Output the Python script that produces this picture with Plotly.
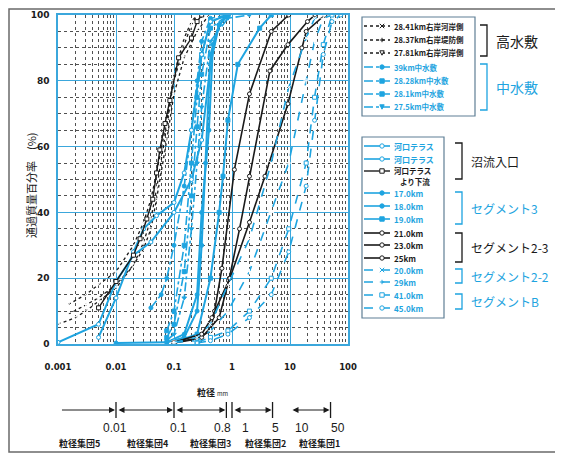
import numpy as np
import plotly.graph_objects as go

BLUE = "#1ea4e0"
BLACK = "#1a1a1a"
GRID = "#3ba7dc"
DOT = "#505050"
FONT = "Noto Sans CJK JP"

# grain size (mm) / percent passing
# 高水敷
hw1_d = [0.0015, 0.003, 0.005, 0.01, 0.02, 0.03, 0.04, 0.05, 0.075, 0.1, 0.15, 0.2, 0.25]
hw1_p = [12, 15, 18, 22, 30, 37, 44, 52, 68, 82, 93, 98, 100]
hw2_d = [0.0015, 0.003, 0.005, 0.01, 0.02, 0.03, 0.04, 0.05, 0.075, 0.1, 0.15, 0.2, 0.25]
hw2_p = [9, 12, 14, 18, 24, 31, 38, 47, 66, 80, 91, 97, 100]
hw3_d = [0.001, 0.002, 0.003, 0.005, 0.01, 0.02, 0.03, 0.04, 0.05, 0.075, 0.1, 0.15, 0.25, 0.4]
hw3_p = [6, 8, 10, 13, 17, 24, 29, 35, 44, 62, 76, 87, 95, 100]
# 中水敷
mid1_d = [0.04, 0.06, 0.075, 0.1, 0.15, 0.2, 0.25, 0.3, 0.425, 0.85]
mid1_p = [11, 15, 20, 30, 48, 65, 80, 92, 99, 100]
mid2_d = [0.075, 0.1, 0.15, 0.2, 0.25, 0.3, 0.425, 0.85]
mid2_p = [4, 10, 30, 55, 75, 88, 98, 100]
mid3_d = [0.075, 0.1, 0.15, 0.2, 0.25, 0.3, 0.425, 0.85]
mid3_p = [2, 6, 22, 45, 66, 82, 96, 100]
mid4_d = [0.075, 0.1, 0.15, 0.2, 0.25, 0.3, 0.425, 0.85, 2]
mid4_p = [1, 3, 14, 35, 55, 72, 92, 99, 100]
# 沼流入口
ter1_d = [0.001, 0.005, 0.01, 0.02, 0.04, 0.1, 0.2, 0.3, 0.425, 0.6, 0.85]
ter1_p = [0.5, 6, 19, 27, 31, 40, 50, 62, 85, 97, 100]
ter2_d = [0.005, 0.01, 0.02, 0.03, 0.05, 0.1, 0.15, 0.2, 0.3, 0.425, 0.85]
ter2_p = [2, 14, 28, 35, 39, 43, 52, 65, 88, 98, 100]
ter3_d = [0.005, 0.01, 0.02, 0.026, 0.034, 0.043, 0.05, 0.057, 0.07, 0.085, 0.12, 0.2, 0.25, 0.3]
ter3_p = [11, 19, 27, 32, 38, 44, 52, 59, 67, 74, 87, 93, 98, 100]
# セグメント3
s3a_d = [0.01, 0.075, 0.15, 0.25, 0.3, 0.35, 0.425, 0.6, 0.85]
s3a_p = [0.3, 0.5, 2, 10, 30, 55, 88, 97, 100]
s3b_d = [0.075, 0.15, 0.25, 0.3, 0.4, 0.47, 0.6, 0.85]
s3b_p = [0.5, 3, 15, 40, 65, 91, 97, 100]
s3c_d = [0.1, 0.25, 0.425, 0.6, 0.7, 0.85, 1.26, 3, 4.75]
s3c_p = [0.5, 3, 20, 40, 51, 68, 85, 96, 100]
# セグメント2-3
s23a_d = [0.1, 0.25, 0.425, 0.5, 0.67, 1.1, 2, 4.75, 9.5]
s23a_p = [0.3, 1.5, 4, 10, 23, 53, 76, 95, 100]
s23b_d = [0.1, 0.3, 0.6, 0.9, 1.35, 2, 4.5, 9.2, 20, 27]
s23b_p = [0.5, 2, 8, 20, 35, 51, 83, 91, 98, 100]
s23c_d = [0.1, 0.3, 0.45, 0.92, 2, 3.7, 9.2, 16, 19, 40]
s23c_p = [0.5, 3, 8, 20, 37, 51, 73, 90, 95, 100]
# セグメント2-2
s22a_d = [0.1, 0.25, 0.425, 0.85, 2, 4.75, 9.5, 19, 26.5, 37.5]
s22a_p = [0.5, 2, 6, 18, 32, 55, 78, 93, 99, 100]
s22b_d = [0.1, 0.25, 0.425, 0.85, 2, 4.75, 9.5, 19, 26.5, 37.5, 53]
s22b_p = [0.5, 1, 4, 10, 22, 40, 55, 80, 92, 99, 100]
# セグメントB
sba_d = [0.25, 0.425, 0.85, 2, 4.75, 9.5, 19, 26.5, 37.5, 53]
sba_p = [0.5, 2, 4, 10, 20, 35, 55, 75, 91, 100]
sbb_d = [0.25, 0.425, 0.85, 2, 4.75, 9.5, 19, 26.5, 37.5, 53, 75]
sbb_p = [0.3, 1, 3, 8, 15, 28, 48, 68, 88, 98, 100]

x_ticks = [0.001, 0.01, 0.1, 1, 10, 100]
x_ticktext = ["0.001", "0.01", "0.1", "1", "10", "100"]

# name, sizes, percents, color, dash, width, marker symbol
series = [
    ("28.41km右岸河岸側", hw1_d, hw1_p, BLACK, "dot", 1.3, "x-thin-open"),
    ("28.37km右岸堤防側", hw2_d, hw2_p, BLACK, "dot", 1.3, "cross-thin-open"),
    ("27.81km右岸河岸側", hw3_d, hw3_p, BLACK, "dot", 1.3, "triangle-down-open"),
    ("39km中水敷", mid1_d, mid1_p, BLUE, "dashdot", 1.6, "circle"),
    ("28.28km中水敷", mid2_d, mid2_p, BLUE, "dashdot", 1.6, "square"),
    ("28.1km中水敷", mid3_d, mid3_p, BLUE, "dashdot", 1.6, "square"),
    ("27.5km中水敷", mid4_d, mid4_p, BLUE, "dashdot", 1.6, "triangle-down"),
    ("河口テラス", ter1_d, ter1_p, BLUE, "solid", 2.0, "circle-open"),
    ("河口テラス", ter2_d, ter2_p, BLUE, "solid", 2.0, "circle-open"),
    ("河口テラス|より下流", ter3_d, ter3_p, BLACK, "solid", 1.4, "square-open"),
    ("17.0km", s3a_d, s3a_p, BLUE, "solid", 2.0, "circle"),
    ("18.0km", s3b_d, s3b_p, BLUE, "solid", 2.0, "circle"),
    ("19.0km", s3c_d, s3c_p, BLUE, "solid", 2.0, "square"),
    ("21.0km", s23a_d, s23a_p, BLACK, "solid", 1.6, "circle-open"),
    ("23.0km", s23b_d, s23b_p, BLACK, "solid", 1.6, "circle-open"),
    ("25km", s23c_d, s23c_p, BLACK, "solid", 1.6, "circle-open"),
    ("20.0km", s22a_d, s22a_p, BLUE, "dash", 1.6, "x-thin-open"),
    ("29km", s22b_d, s22b_p, BLUE, "dash", 1.6, "cross-thin-open"),
    ("41.0km", sba_d, sba_p, BLUE, "dash", 1.6, "square-open"),
    ("45.0km", sbb_d, sbb_p, BLUE, "dash", 1.6, "circle-open"),
]

fig = go.Figure()
for name, d, p, color, dash, width, symbol in series:
    fill = "white" if symbol.endswith("-open") else color
    fig.add_trace(
        go.Scatter(
            x=d,
            y=p,
            mode="lines+markers",
            name=name.replace("|", ""),
            line=dict(color=color, dash=dash, width=width),
            marker=dict(symbol=symbol.replace("-open", "") if symbol in ("circle-open", "square-open") else symbol,
                        size=4, color=fill, line=dict(color=color, width=1)),
            showlegend=False,
        )
    )


# page is offset 8px by the body margin, so the figure is 555x447 and
# positions below are page pixels; plot area is x 58..348, y 15..344
def px(x):
    return (x - 58) / 290


def py(y):
    return 1 - (y - 15) / 329


def text(x, y, t, size, color=BLACK, family=FONT, anchor="center", **kw):
    return dict(xref="paper", yref="paper", x=px(x), y=py(y), text=t, showarrow=False,
                xanchor=anchor, yanchor="middle", font=dict(size=size, color=color, family=family), **kw)


def glyph(sym, cx, cy, color, r=2.2):
    fill = "white" if sym.endswith("-open") else color
    ln = dict(color=color, width=1)
    x0, x1, y0, y1 = px(cx - r), px(cx + r), py(cy + r), py(cy - r)
    if sym.startswith("circle"):
        return dict(type="circle", xref="paper", yref="paper", x0=x0, x1=x1, y0=y0, y1=y1, line=ln, fillcolor=fill)
    if sym.startswith("square"):
        return dict(type="rect", xref="paper", yref="paper", x0=x0, x1=x1, y0=y0, y1=y1, line=ln, fillcolor=fill)
    if sym.startswith("triangle-down"):
        path = f"M{x0},{y1} L{x1},{y1} L{px(cx)},{y0} Z"
        return dict(type="path", xref="paper", yref="paper", path=path, line=ln, fillcolor=fill)
    if sym.startswith("cross"):
        path = f"M{x0},{py(cy)} L{x1},{py(cy)} M{px(cx)},{y0} L{px(cx)},{y1}"
        return dict(type="path", xref="paper", yref="paper", path=path, line=ln)
    path = f"M{x0},{y0} L{x1},{y1} M{x0},{y1} L{x1},{y0}"
    return dict(type="path", xref="paper", yref="paper", path=path, line=ln)


shapes = []
annotations = []

# legend boxes
for (bx0, by0, bx1, by1) in [(362, 17, 475, 116), (362, 137, 444, 318)]:
    shapes.append(dict(type="rect", xref="paper", yref="paper", x0=px(bx0), x1=px(bx1), y0=py(by1), y1=py(by0),
                       line=dict(color="#5f7f95", width=1.2)))

row_y = [26, 40, 53, 67, 81, 94, 107, 146, 159, 171, 193, 206, 219, 233, 245, 258, 270, 282, 295, 308]
for (name, d, p, color, dash, width, symbol), ry in zip(series, row_y):
    shapes.append(dict(type="line", xref="paper", yref="paper", x0=px(364), x1=px(390), y0=py(ry), y1=py(ry),
                       line=dict(color=color, dash=dash, width=min(width, 1.6))))
    shapes.append(glyph(symbol, 382, ry, color))
    fs = 7.5 if ry < 120 else 8
    parts = name.split("|")
    if len(parts) == 1:
        annotations.append(text(392, ry, "<b>" + name + "</b>", fs, color, anchor="left"))
    else:
        annotations.append(text(392, ry - 1, "<b>" + parts[0] + "</b>", 7.5, color, anchor="left"))
        annotations.append(text(398, ry + 10, "<b>" + parts[1] + "</b>", 7.5, color, anchor="left"))

# group brackets
groups = [
    ("高水敷", 480, 25, 56, BLACK, 14),
    ("中水敷", 480, 64, 110, BLUE, 14),
    ("沼流入口", 455, 143, 179, BLACK, 12),
    ("セグメント3", 455, 192, 224, BLUE, 12),
    ("セグメント2-3", 455, 233, 262, BLACK, 12),
    ("セグメント2-2", 455, 269, 283, BLUE, 12),
    ("セグメントB", 455, 294, 309, BLUE, 12),
]
for label, gx, gy0, gy1, color, fs in groups:
    path = f"M{px(gx)},{py(gy0)} L{px(gx + 7)},{py(gy0)} L{px(gx + 7)},{py(gy1)} L{px(gx)},{py(gy1)}"
    shapes.append(dict(type="path", xref="paper", yref="paper", path=path, line=dict(color=color, width=1.3)))
    annotations.append(text(gx + 14, (gy0 + gy1) / 2, label, fs, color, anchor="left"))

# axis titles
annotations.append(text(31, 185, "通過質量百分率　(%)", 11, textangle=-90))
annotations.append(text(195, 392, "<b>粒径</b> <span style='font-size:6px'>mm</span>", 9, anchor="left"))

# grain-group diagram below the axis
arrow_y = py(410)
spans = [(0.00106, 0.01, "end"), (0.01, 0.1, "end+start"), (0.1, 0.8, "end+start"),
         (1, 5, "end+start"), (10, 50, "end+start")]
for d0, d1, side in spans:
    annotations.append(dict(xref="x", yref="paper", x=np.log10(d1), y=arrow_y, axref="x", ayref="pixel",
                            ax=np.log10(d0), ay=0, text="", showarrow=True, arrowhead=2, arrowsize=1.2,
                            arrowwidth=1, arrowcolor=BLACK, arrowside=side, standoff=1, startstandoff=1))
for b in [0.01, 0.1, 0.8, 1, 5, 50]:
    shapes.append(dict(type="line", xref="x", yref="paper", x0=b, x1=b, y0=py(418), y1=py(402),
                       line=dict(color=BLACK, width=1.3)))

bound_labels = [("0.01", 115), ("0.1", 178), ("0.8", 222), ("1", 245), ("5", 275), ("10", 302), ("50", 338)]
for t, bx in bound_labels:
    annotations.append(text(bx, 428, t, 12, family="Liberation Sans"))
group_labels = [("粒径集団5", 79), ("粒径集団4", 148), ("粒径集団3", 210), ("粒径集団2", 265), ("粒径集団1", 319)]
for t, gx in group_labels:
    annotations.append(text(gx, 443, "<b>" + t + "</b>", 9))

# scanned page frame
shapes.append(dict(type="rect", xref="paper", yref="paper", x0=px(9), x1=px(559), y0=py(452), y1=py(9),
                   line=dict(color="#6a6a6a", width=1.5), layer="below"))

minor_x = [m * 10.0 ** k for k in range(-3, 2) for m in range(2, 10)]

fig.update_layout(
    width=555,
    height=447,
    margin=dict(l=50, r=215, t=7, b=111),
    paper_bgcolor="white",
    plot_bgcolor="white",
    font=dict(family=FONT, color=BLACK),
    shapes=shapes,
    annotations=annotations,
    xaxis=dict(
        type="log", range=[-3, 2], tickvals=x_ticks, ticktext=x_ticktext,
        showgrid=True, gridcolor=GRID, gridwidth=1.3,
        minor=dict(tickvals=minor_x, showgrid=True, gridcolor=DOT, griddash="dot", gridwidth=0.8, ticks=""),
        showline=True, linecolor=GRID, linewidth=1.5, mirror=True, ticks="", zeroline=False,
        tickfont=dict(size=8.5, family="DejaVu Sans", weight="bold"), ticklabelstandoff=14, automargin=False,
    ),
    yaxis=dict(
        range=[0, 100], tickvals=[0, 20, 40, 60, 80, 100],
        showgrid=True, gridcolor=GRID, gridwidth=1.3,
        minor=dict(dtick=5, showgrid=True, gridcolor=DOT, griddash="dot", gridwidth=0.8, ticks=""),
        showline=True, linecolor=GRID, linewidth=1.5, mirror=True, ticks="", zeroline=False,
        tickfont=dict(size=9, family="DejaVu Sans", weight="bold"), ticklabelstandoff=5, automargin=False,
    ),
)

fig.write_html("out.html")
